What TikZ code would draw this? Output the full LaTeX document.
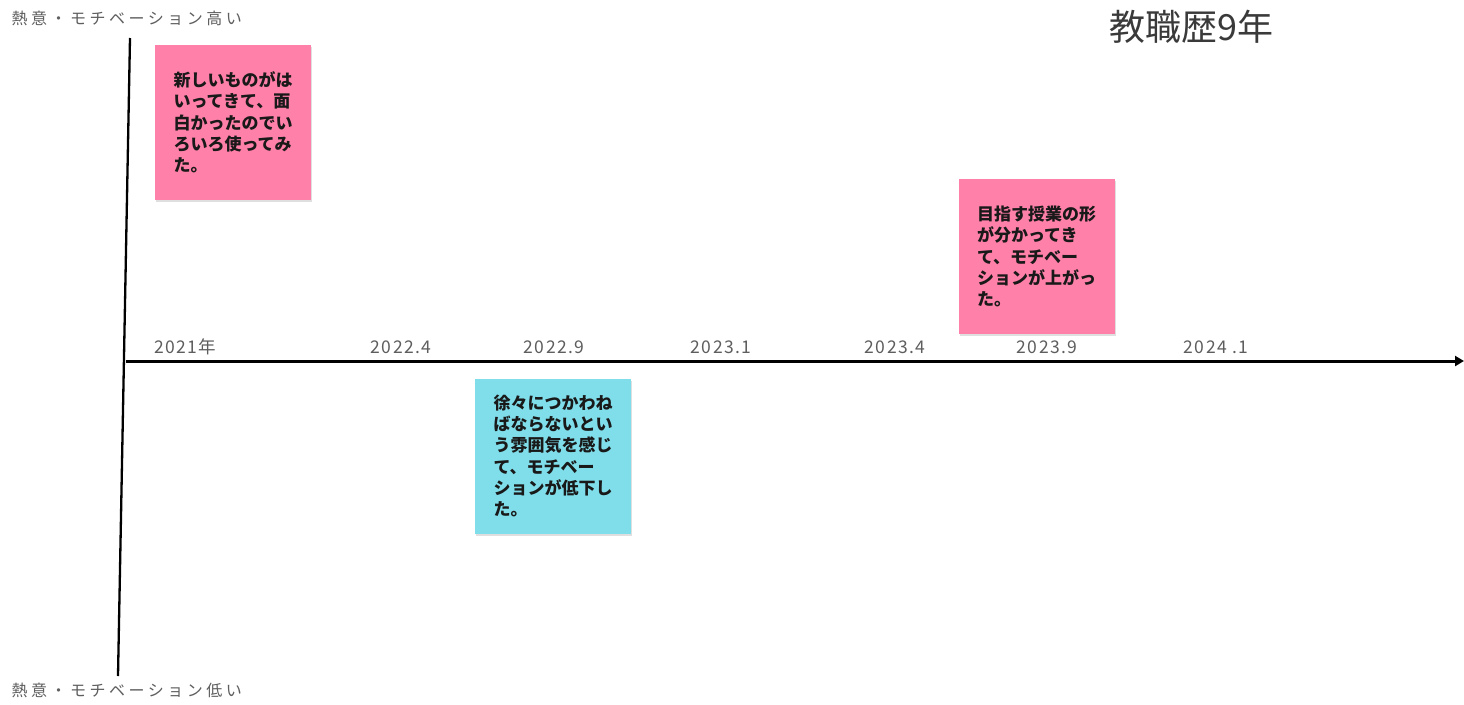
\documentclass[tikz,border=0pt]{standalone}
\usepackage{fontspec}
\setmainfont{Noto Sans CJK JP}
\usetikzlibrary{arrows.meta,shadows}
\definecolor{stickpink}{HTML}{FF80A9}
\definecolor{stickcyan}{HTML}{80DEEA}
\definecolor{labgray}{HTML}{5E5E5E}
\definecolor{titlegray}{HTML}{3A3A3A}
\tikzset{
  sticky/.style={rectangle, minimum width=156pt, minimum height=155pt, inner xsep=18pt,
    align=left, font=\fontsize{17}{21.3}\selectfont\bfseries, text=black!90,
    drop shadow={shadow xshift=1pt, shadow yshift=-2pt, opacity=0.25}},
  datelab/.style={font=\fontsize{17.5}{20}\selectfont\addfontfeatures{LetterSpace=8}, text=labgray},
  axislab/.style={font=\fontsize{16}{19}\selectfont\addfontfeatures{LetterSpace=22}, text=labgray, anchor=west},
  axisline/.style={black}
}
\begin{document}
\begin{tikzpicture}[x=1pt,y=-1pt]
\useasboundingbox[fill=white] (0,0) rectangle (1464,704);
% axes
\coordinate (vtop) at (130,38);
\coordinate (vbot) at (118,676);
\coordinate (hleft) at (126,361);
\coordinate (hright) at (1464,361);
\draw[axisline, line width=2.3pt] (vtop) -- (vbot);
\draw[axisline, line width=3pt, -{Triangle[length=9pt,width=10pt]}] (hleft) -- (hright);
% axis labels
\node[axislab] (hi) at (8,18) {熱意・モチベーション高い};
\node[axislab] (lo) at (8,690) {熱意・モチベーション低い};
% title
\node[font=\fontsize{36}{40}\selectfont, text=titlegray] (title) at (1191,27) {教職歴9年};
% dates
\node[datelab] (d1) at (185,347) {2021年};
\node[datelab] (d2) at (401,347) {2022.4};
\node[datelab] (d3) at (554,347) {2022.9};
\node[datelab] (d4) at (721,347) {2023.1};
\node[datelab] (d5) at (895,347) {2023.4};
\node[datelab] (d6) at (1047,347) {2023.9};
\node[datelab] (d7) at (1216,347) {2024 .1};
% stickies
\node[sticky, fill=stickpink] (s1) at (233,122.5) {新しいものがは\\いってきて、面\\白かったのでい\\ろいろ使ってみ\\た。};
\node[sticky, fill=stickpink] (s2) at (1036.5,256.5) {目指す授業の形\\が分かってき\\て、モチベー\\ションが上がっ\\た。};
\node[sticky, fill=stickcyan] (s3) at (553,456) {徐々につかわね\\ばならないとい\\う雰囲気を感じ\\て、モチベー\\ションが低下し\\た。};
\end{tikzpicture}
\end{document}
